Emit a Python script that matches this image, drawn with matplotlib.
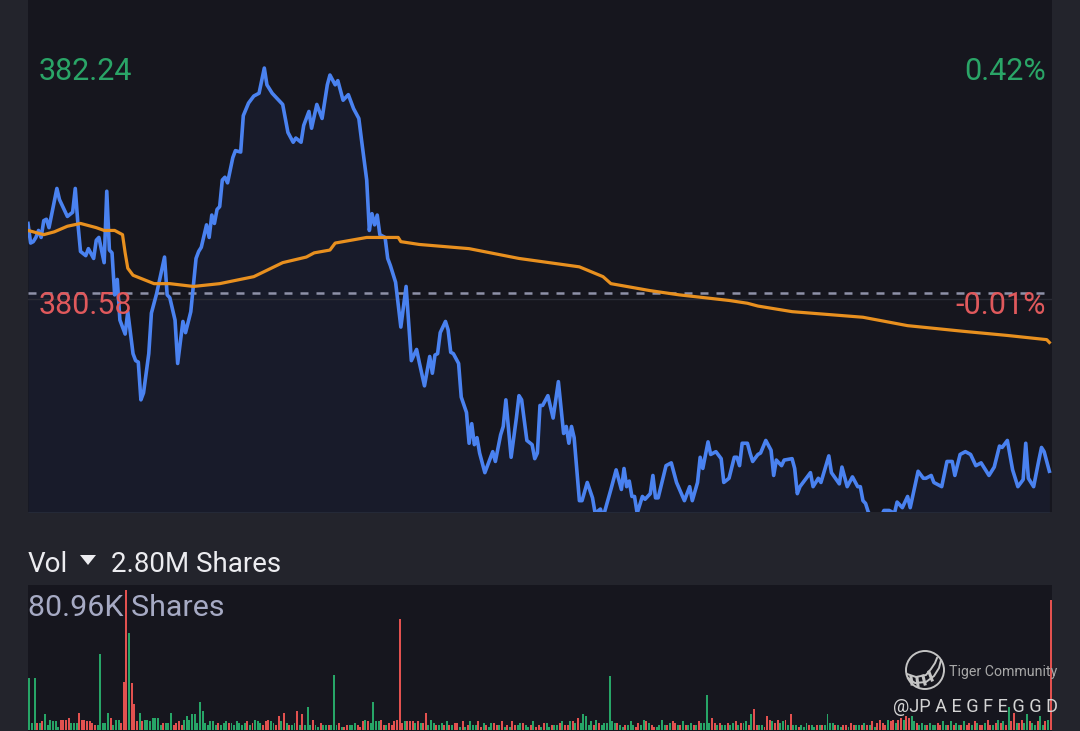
import numpy as np
import matplotlib
matplotlib.use("Agg")
import matplotlib.pyplot as plt
from matplotlib.patches import Circle

plt.rcParams['font.family'] = ['Roboto', 'DejaVu Sans']

# blue price line (minute of session, price)
blue_min = [0,1,2,3,4,5,6,7,8,11,12,15,17,18,19,20,22,23,25,26,27,29,30,31,32,33,34,35,37,38,
            40,41,42,43,44,46,47,49,52,53,54,56,57,59,60,62,64,65,66,68,69,70,71,72,73,74,75,76,78,79,
            81,82,84,86,88,90,91,93,95,97,99,101,102,104,105,107,108,110,112,114,115,117,118,120,122,124,126,127,129,130,
            131,132,133,134,136,137,138,140,142,144,146,148,149,151,153,154,155,156,157,159,160,161,162,164,165,167,168,169,170,171,
            172,174,177,178,180,181,182,184,186,187,188,190,192,193,194,195,196,198,200,202,204,205,206,207,208,210,211,213,215,216,
            218,219,222,224,226,227,228,229,230,231,232,234,235,237,238,239,240,243,245,247,250,252,253,255,256,257,259,260,262,264,
            265,267,269,270,271,272,274,275,276,278,279,281,283,284,285,287,288,291,292,293,294,296,298,299,301,302,305,306,309,310,
            312,314,316,317,318,319,320,322,324,326,328,330,331,333,335,336,339,341,342,344,345,348,350,352,353,355,357,359,361,363,
            366,368,370,371,373,375,377,379,380,381,383,385,386,387,389]
blue_price = [381.12,380.98,380.99,381.02,381.07,381.02,381.14,381.15,381.09,381.37,381.29,381.17,381.20,381.37,381.12,380.92,380.89,380.94,380.87,381.00,381.02,380.84,381.35,380.93,380.91,380.61,380.72,380.43,380.33,380.49,
              380.19,380.14,380.13,379.86,379.91,380.19,380.48,380.62,380.88,380.61,380.59,380.43,380.12,380.42,380.34,380.49,380.87,380.92,380.95,381.11,381.02,381.18,381.12,381.22,381.24,381.43,381.45,381.41,381.59,381.64,
              381.63,381.89,381.98,382.03,382.05,382.23,382.11,382.05,382.01,381.97,381.77,381.70,381.73,381.70,381.82,381.92,381.80,381.97,381.87,382.11,382.18,382.11,382.14,382.00,382.04,381.94,381.87,381.72,381.43,381.07,
              381.19,381.11,381.18,381.04,381.02,380.87,380.82,380.70,380.38,380.67,380.14,380.22,380.13,379.96,380.17,380.05,380.18,380.19,380.34,380.42,380.36,380.20,380.19,380.12,379.88,379.77,379.55,379.69,379.54,379.59,
              379.48,379.34,379.49,379.42,379.61,379.67,379.86,379.45,379.73,379.89,379.86,379.57,379.54,379.44,379.48,379.82,379.82,379.89,379.73,379.99,379.62,379.67,379.55,379.67,379.59,379.14,379.14,379.27,379.16,379.05,
              379.08,379.02,379.22,379.36,379.22,379.37,379.24,379.28,379.17,379.17,379.05,379.17,379.15,379.19,379.32,379.16,379.16,379.39,379.41,379.27,379.14,379.24,379.14,379.27,379.45,379.37,379.56,379.47,379.49,379.44,
              379.27,379.30,379.45,379.45,379.39,379.55,379.55,379.48,379.42,379.47,379.48,379.57,379.50,379.32,379.43,379.39,379.43,379.44,379.37,379.19,379.24,379.29,379.34,379.24,379.30,379.27,379.46,379.34,379.26,379.38,
              379.24,379.31,379.24,379.24,379.14,379.12,379.06,379.00,378.99,379.07,379.07,379.05,379.13,379.09,379.17,379.09,379.35,379.30,379.30,379.32,379.27,379.24,379.42,379.42,379.32,379.47,379.49,379.47,379.39,379.41,
              379.32,379.38,379.53,379.52,379.57,379.36,379.24,379.29,379.55,379.30,379.24,379.43,379.52,379.49,379.35]

# orange average line
avg_min = [0,6,10,15,20,26,29,33,36,37,38,40,48,54,63,73,86,97,106,109,115,117,129,141,142,149,168,187,210,219,
           222,237,248,267,274,278,291,318,335,356,373,388,389]
avg_price = [381.07,381.04,381.06,381.10,381.12,381.09,381.07,381.07,381.04,380.91,380.80,380.75,380.69,380.69,380.67,380.69,380.74,380.84,380.88,380.91,380.93,380.98,381.02,381.02,380.99,380.97,380.94,380.87,380.81,380.74,
             380.69,380.64,380.61,380.57,380.55,380.53,380.49,380.45,380.39,380.35,380.32,380.29,380.27]

prev_close = 380.62
low_price = 380.58

# volume per minute, thousand shares
vol_k = [30,4,30,4,4,5,9,3,6,5,
         5,2,6,6,6,7,4,4,4,10,
         6,6,5,5,4,3,3,44,4,4,
         10,7,3,6,6,4,28,81,56,27,
         15,5,10,5,6,6,5,7,7,7,
         3,4,4,4,10,3,4,5,3,6,
         8,6,9,9,4,16,11,4,3,5,
         5,3,4,3,4,5,4,4,3,5,
         4,3,4,5,3,4,6,5,4,3,
         5,6,5,4,3,8,5,10,4,3,
         3,4,11,3,9,3,13,3,6,3,
         2,4,3,3,3,3,32,3,4,2,
         2,3,3,3,4,3,2,5,6,5,
         4,16,5,5,6,3,3,4,3,5,
         6,64,4,5,5,5,5,4,5,4,
         4,10,3,6,4,3,3,4,3,5,
         3,3,4,4,2,5,2,3,5,3,
         3,5,2,4,3,2,4,4,3,3,
         5,2,3,2,5,3,3,4,4,3,
         2,3,5,2,3,2,4,4,2,3,
         3,3,4,5,3,3,5,5,4,7,
         4,9,8,3,5,3,6,4,3,4,
         4,31,5,4,4,3,2,3,3,5,
         3,2,4,3,6,5,4,3,2,2,
         3,6,3,3,4,5,4,3,3,5,
         3,3,4,3,3,5,4,4,20,4,
         7,4,3,4,3,3,4,3,4,5,
         3,4,4,5,3,9,12,3,3,3,
         2,8,6,5,4,6,4,5,6,3,
         9,3,3,2,3,2,4,3,3,2,
         3,3,3,3,9,4,4,3,3,2,
         3,3,2,4,3,3,3,3,4,3,
         3,5,2,4,6,4,3,6,5,6,
         4,6,7,6,8,7,8,5,4,3,
         4,3,3,4,3,3,4,3,5,3,
         3,5,3,4,3,3,5,3,4,3,
         5,4,3,3,4,6,3,3,4,6,
         4,5,3,13,5,10,4,4,6,4,
         9,5,4,3,5,8,3,5,6,75]
vol_side = ("gggrgrgggg" "ggrrrrgggr" "rrrrrrgggg" "grgggrrrgr" "rrgrgggggg"
            "grgggrrrrg" "gggggggggg" "ggrgggrggg" "gggrgrgggr" "rrggrrgrgr"
            "ggrgrgggrg" "grggrgggrg" "rrgggrrrgr" "ggggrrgrrr" "rrrgrrrgrg"
            "rrgggrggrg" "rgrrgrgrgg" "grrgrggrrg" "rgrgrrggrg" "grgrrgrggr"
            "ggrgrrgrgr" "gggggrgrgg" "ggggrggrgg" "grrggrgrrg" "gggrgrrgrg"
            "rggrgrgggg" "rrgrggrggr" "grggrgrrgg" "rrrgrrggrg" "rggrgggrgg"
            "rgrggggrgg" "rrgrrggrgr" "grgrrrrgrr" "grrgrrggrg" "ggrgggrrgg"
            "rgrggrgrrg" "rgrrgrrgrg" "rgrgrrgrrg" "grggrggrgr")

fig = plt.figure(figsize=(10.8, 7.31), dpi=100, facecolor='#23242c')

# price panel
ax = fig.add_axes([28/1080, 1-512/731, 1024/1080, 512/731], facecolor='#16161e')
ax.set_xlim(0, 390)
ax.set_ylim(379.059, 382.716)
ax.axis('off')
ax.add_patch(plt.Rectangle((0, 0), 1, 1, transform=ax.transAxes, color='#16161e', zorder=0))
ax.fill_between(blue_min, blue_price, 378, color='#3f7cf5', alpha=0.06, lw=0, zorder=1)
ax.axhline(low_price, color='#2a2b35', lw=1, zorder=1)
ax.axhline(prev_close, color='#8e91a8', lw=1.8, dashes=(3.2, 3.2), zorder=2)
ax.plot(blue_min, blue_price, color='#4a82f0', lw=2.6, solid_joinstyle='round', zorder=3)
ax.plot(avg_min, avg_price, color='#e8901f', lw=2.3, zorder=4)

# volume panel
ax2 = fig.add_axes([28/1080, 0, 1024/1080, 146/731], facecolor='#16161e')
ax2.set_xlim(-0.5, 389.5)
ax2.set_ylim(-0.6, 83.8)
ax2.axis('off')
ax2.add_patch(plt.Rectangle((0, 0), 1, 1, transform=ax2.transAxes, color='#16161e', zorder=0))
colors = ['#e2514f' if s == 'r' else '#27a567' for s in vol_side]
ax2.bar(range(len(vol_k)), vol_k, width=0.75, color=colors, lw=0, zorder=2)

# labels in figure pixels
def label(x, y, s, color, size, ha='left', **kw):
    fig.text(x/1080, 1-y/731, s, color=color, fontsize=size, ha=ha, va='center', zorder=10, **kw)

label(39, 72, '382.24', '#2aa567', 22)
label(1046, 72, '0.42%', '#2aa567', 22, ha='right')
label(39, 305, '380.58', '#e0595c', 22)
label(1046, 305, '-0.01%', '#e0595c', 22, ha='right')
label(28, 564, 'Vol', '#ececf0', 20)
label(111, 564, '2.80M Shares', '#ececf0', 20)
label(28, 608, '80.96K Shares', '#a6aac4', 21.85)
label(949, 672, 'Tiger Community', '#a8a8a8', 10.2)
label(893, 707, '@JP A E G F E G G D', '#d4d4d4', 13.1)

# overlay for the little triangle and the watermark logo
over = fig.add_axes([0, 0, 1, 1], facecolor='none')
over.set_xlim(0, 1080)
over.set_ylim(731, 0)
over.axis('off')
over.fill([80, 96, 88], [555, 555, 565], color='#ececf0', lw=0)
over.add_patch(Circle((925, 670), 19, fc='none', ec='#c4c4c4', lw=1.4))
over.plot([908, 915, 926, 934, 939, 941], [678, 683, 682, 676, 668, 660], color='#c4c4c4', lw=1.4)
over.plot([907, 916, 926, 931, 935, 937], [674, 677, 675, 669, 663, 658], color='#c4c4c4', lw=1.4)
for x0, x1, y0, y1 in [(911, 912, 677, 684), (917, 918, 678, 686), (923, 925, 676, 684), (929, 932, 672, 680)]:
    over.plot([x0, x1], [y0, y1], color='#c4c4c4', lw=2.2)

fig.savefig('out.png', dpi=100, facecolor=fig.get_facecolor())
